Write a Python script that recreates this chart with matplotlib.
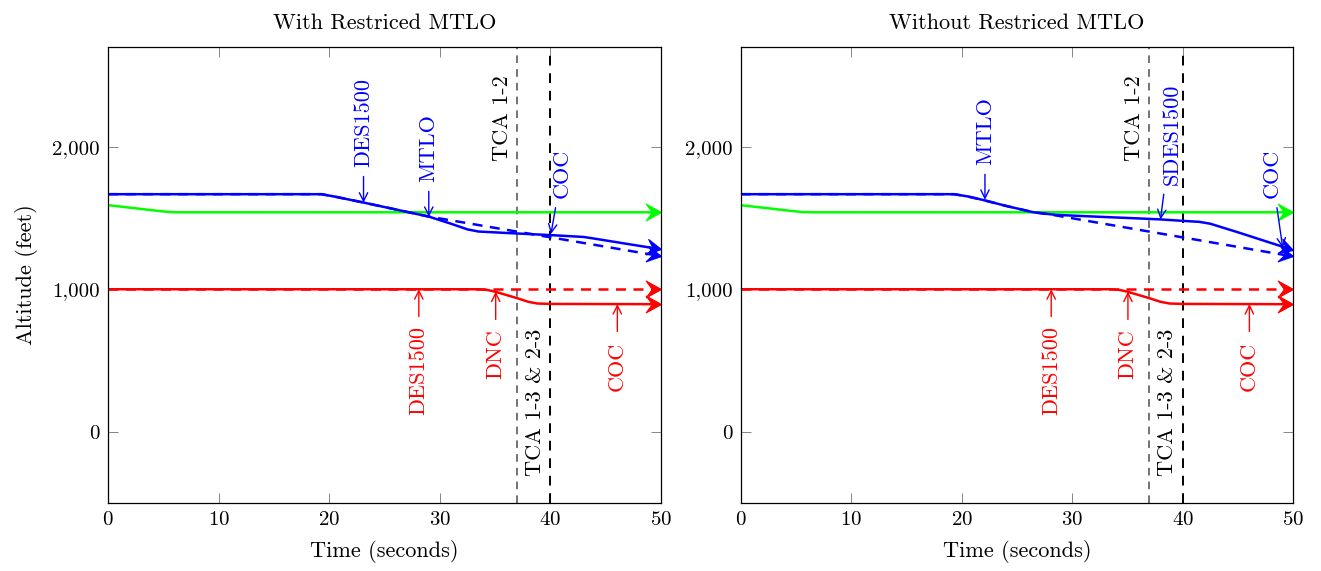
import numpy as np
import matplotlib.pyplot as plt
from matplotlib.path import Path

plt.rcParams['font.family'] = ['cmr10', 'DejaVu Serif']
plt.rcParams['axes.formatter.use_mathtext'] = True
plt.rcParams['font.size'] = 15

# altitude traces (time in s, altitude in ft)
green_x = [0, 4.5, 5.5, 6.5, 50]
green_y = [1590, 1550, 1542, 1540, 1540]

red_x = [0, 33.5, 34.3, 35.0, 36.0, 37.0, 38.0, 38.8, 40, 50]
red_y = [1000, 1000, 995, 983, 960, 937, 912, 900, 897, 895]
red_dash_x = [0, 50]
red_dash_y = [1000, 1000]

blue_l_x = [0, 19.3, 20.5, 23, 26, 29, 31, 32.5, 33.5, 36, 40, 43, 44, 50]
blue_l_y = [1667, 1667, 1650, 1610, 1560, 1510, 1460, 1420, 1405, 1395, 1380, 1367, 1355, 1280]
blue_l_dash_x = [0, 19.3, 20.5, 23, 26, 29, 50]
blue_l_dash_y = [1667, 1667, 1650, 1610, 1560, 1510, 1232]

blue_r_x = [0, 19.3, 20.5, 22, 24, 26.5, 28.5, 32, 36, 38, 40, 41.5, 42.5, 45, 50]
blue_r_y = [1667, 1667, 1652, 1625, 1585, 1540, 1522, 1510, 1497, 1490, 1480, 1473, 1460, 1400, 1275]
blue_r_dash_x = [0, 19.3, 20.5, 22, 24, 26.5, 28, 50]
blue_r_dash_y = [1667, 1667, 1652, 1625, 1585, 1540, 1525, 1230]

tca_12 = 37
tca_13 = 40

xticks = [0, 10, 20, 30, 40, 50]
yticks = [0, 1000, 2000]
ytick_labels = ['0', '1,000', '2,000']

# event labels: (text, colour, arrow tip x, tip y, text x, text y, above?)
left_events = [
    ('DES1500', 'blue', 23.1, 1608, 23.1, 1860, True),
    ('MTLO', 'blue', 29.0, 1508, 29.0, 1755, True),
    ('COC', 'blue', 40.05, 1388, 41.0, 1640, True),
    ('DES1500', 'red', 28.1, 1000, 28.1, 740, False),
    ('DNC', 'red', 35.05, 983, 35.05, 720, False),
    ('COC', 'red', 46.05, 896, 46.05, 635, False),
]
right_events = [
    ('MTLO', 'blue', 22.1, 1628, 22.1, 1875, True),
    ('SDES1500', 'blue', 38.0, 1490, 39.0, 1735, True),
    ('COC', 'blue', 49.07, 1290, 48.1, 1640, True),
    ('DES1500', 'red', 28.1, 1000, 28.1, 740, False),
    ('DNC', 'red', 35.05, 983, 35.05, 720, False),
    ('COC', 'red', 46.05, 896, 46.05, 635, False),
]


def head_marker(ax, x0, y0, x1, y1):
    # stealth-like arrow head pointing along the last segment (display space)
    p0 = ax.transData.transform((x0, y0))
    p1 = ax.transData.transform((x1, y1))
    a = np.arctan2(p1[1] - p0[1], p1[0] - p0[0])
    verts = np.array([[0, 0], [-1, 0.55], [-0.6, 0], [-1, -0.55], [0, 0]])
    c, s = np.cos(a), np.sin(a)
    rot = verts @ np.array([[c, s], [-s, c]])
    return Path(rot, [Path.MOVETO, Path.LINETO, Path.LINETO, Path.LINETO, Path.CLOSEPOLY])


def trace(ax, x, y, color, ls='-'):
    k = (y[-2] - y[-1]) / (x[-1] - x[-2])
    ax.plot(x[:-1] + [x[-1] - 0.5], y[:-1] + [y[-1] + k * 0.5],
            color=color, lw=1.8, clip_on=False, solid_capstyle='butt',
            dashes=(4, 3) if ls == '--' else (None, None))
    ax.plot([x[-1]], [y[-1]], marker=head_marker(ax, x[-2], y[-2], x[-1], y[-1]),
            ms=22, color=color, mew=0.8, clip_on=False)


def panel(ax, title, blue_x, blue_y, bdx, bdy, events):
    ax.set_xlim(0, 50)
    ax.set_ylim(-500, 2700)
    ax.axvline(tca_12, color='0.3', lw=1.1, ls=(0, (5, 4)))
    ax.axvline(tca_13, color='black', lw=1.4, ls=(0, (5, 4)))
    trace(ax, green_x, green_y, (0, 1, 0))
    trace(ax, red_dash_x, red_dash_y, 'red', '--')
    trace(ax, red_x, red_y, 'red')
    trace(ax, bdx, bdy, 'blue', '--')
    trace(ax, blue_x, blue_y, 'blue')

    for txt, col, tx, ty, lx, ly, above in events:
        ax.annotate(txt, xy=(tx, ty), xytext=(lx, ly), color=col, rotation=90, fontsize=16,
                    ha='center', va='bottom' if above else 'top',
                    arrowprops=dict(arrowstyle='->,head_length=0.4,head_width=0.2', color=col,
                                    lw=1.0, shrinkA=5, shrinkB=0, mutation_scale=15))

    ax.text(35.6, 1900, 'TCA 1-2', rotation=90, ha='center', va='bottom', fontsize=16)
    ax.text(38.6, 725, 'TCA 1-3 & 2-3', rotation=90, ha='center', va='top', fontsize=16)

    ax.set_xticks(xticks)
    ax.set_yticks(yticks)
    ax.set_yticklabels(ytick_labels)
    ax.tick_params(direction='in', top=True, right=True, length=7, width=0.6, color='0.45', pad=6)
    for s in ax.spines.values():
        s.set_linewidth(0.9)
    ax.set_xlabel('Time (seconds)', labelpad=8, fontsize=16)
    ax.set_title(title, pad=13, fontsize=16)


fig = plt.figure(figsize=(13.21, 5.71), dpi=100)
ax1 = fig.add_axes([0.0818, 0.1191, 0.4186, 0.7986])
ax2 = fig.add_axes([0.5609, 0.1191, 0.4179, 0.7986])

panel(ax1, 'With Restriced MTLO', blue_l_x, blue_l_y, blue_l_dash_x, blue_l_dash_y, left_events)
panel(ax2, 'Without Restriced MTLO', blue_r_x, blue_r_y, blue_r_dash_x, blue_r_dash_y, right_events)
ax1.set_ylabel('Altitude (feet)', labelpad=10, fontsize=16)

fig.savefig('out.png', dpi=100)
